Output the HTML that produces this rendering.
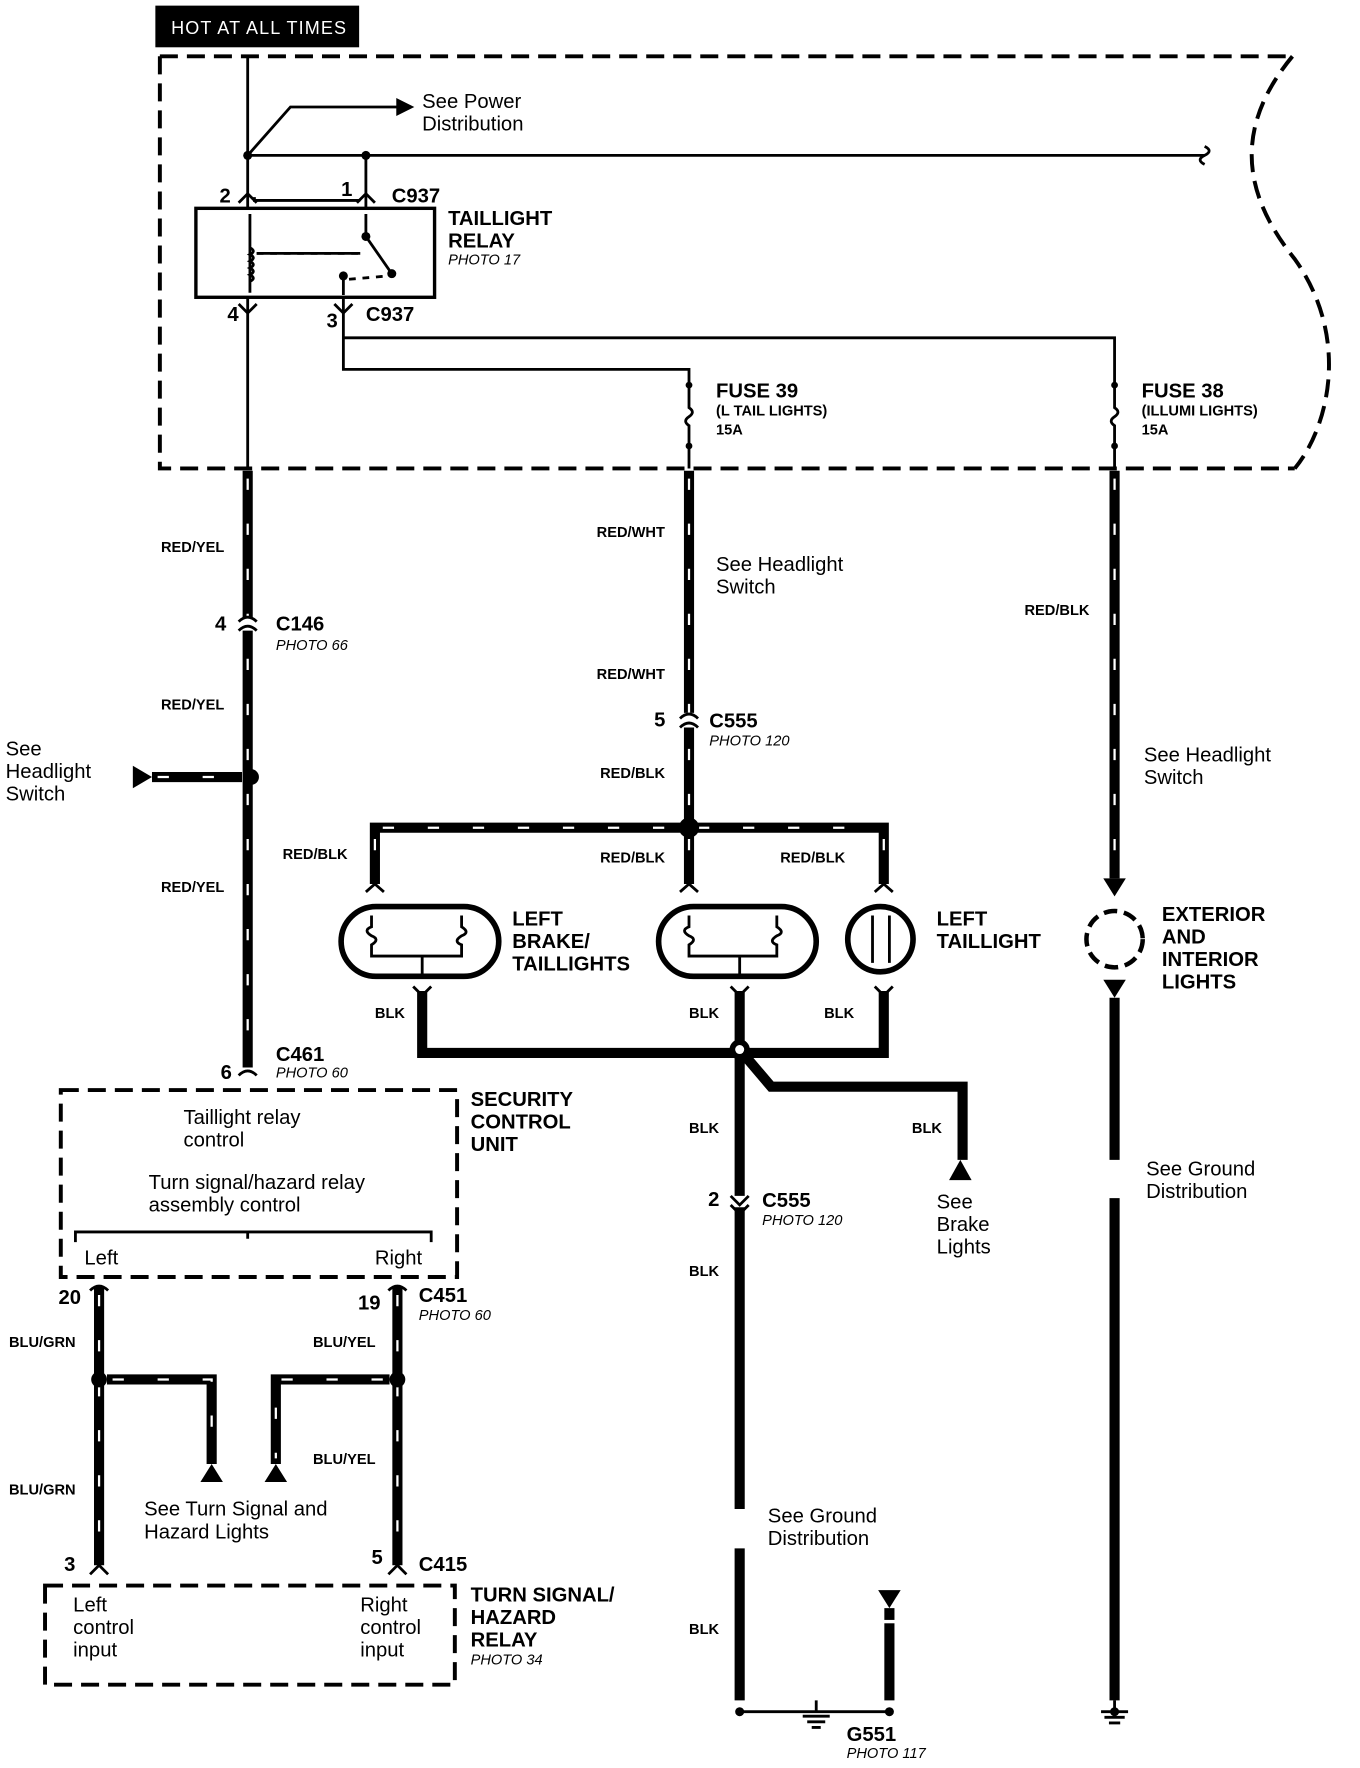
<!DOCTYPE html>
<html><head><meta charset="utf-8"><style>
html,body{margin:0;padding:0;background:#fff;}
svg{display:block}
text{font-family:"Liberation Sans",Arial,sans-serif;fill:#000}
.b{font-weight:bold;font-size:18px}
.s{font-weight:bold;font-size:13px}
.r{font-size:18px}
.i{font-style:italic;font-size:13px}
.w{stroke:#000;stroke-width:9;fill:none}
.t{stroke:#fff;stroke-width:2;stroke-dasharray:10 30;fill:none}
.n{stroke:#000;stroke-width:2.5;fill:none}
.d{stroke:#000;stroke-width:3.5;fill:none;stroke-dasharray:16 8}
</style></head><body>
<svg width="1360" height="1768" viewBox="0 0 1208 1570" preserveAspectRatio="none">
<rect x="138" y="5" width="181" height="37" fill="#000"/>
<text x="152" y="30" style="fill:#fff;font-size:16px;letter-spacing:1px">HOT AT ALL TIMES</text>
<path class="d" d="M142 50 H1148 M142 50 V416 H1150"/>
<path class="d" d="M1148 50 C1090 120,1110 180,1150 230 C1200 300,1180 380,1150 416"/>
<path class="n" d="M220 50 V185 M220 138 H1070 M325 138 V185 M220 138 L258 95 H355"/>
<path d="M352 87 L368 95 L352 103Z"/>
<text class="r" x="375" y="96">See Power</text><text class="r" x="375" y="116">Distribution</text>
<path class="n" d="M1070 130 q8 4 0 8 q-8 4 0 8"/>
<circle cx="220" cy="138" r="4"/><circle cx="325" cy="138" r="4"/>
<path class="n" d="M212 180 L220 172 L228 180 M317 180 L325 172 L333 180 M226 175 V178 H320" stroke-dasharray="0"/>
<text class="b" x="195" y="180">2</text><text class="b" x="303" y="174">1</text>
<text class="b" x="348" y="180">C937</text>
<rect x="174" y="185" width="212" height="79" fill="none" stroke="#000" stroke-width="3"/>
<text class="b" x="398" y="200">TAILLIGHT</text><text class="b" x="398" y="220">RELAY</text>
<text class="i" x="398" y="235">PHOTO 17</text>
<path class="n" d="M222 190 V260 M222 220 q6 3 0 6 q6 3 0 6 q6 3 0 6 q6 3 0 6 q6 3 0 6 M228 225 H320 M325 190 V210 L348 243 M305 245 V262"/>
<path class="n" stroke-dasharray="6 6" d="M228 225 H320 M310 248 L345 245"/>
<circle cx="325" cy="210" r="4"/><circle cx="348" cy="243" r="4"/><circle cx="305" cy="245" r="4"/>
<path class="n" d="M220 264 V416 M305 264 V328 H612 V340 M305 300 H990 V340"/>
<path class="n" d="M212 270 L220 278 L228 270 M297 270 L305 278 L313 270"/>
<text class="b" x="202" y="285">4</text><text class="b" x="290" y="291">3</text>
<text class="b" x="325" y="285">C937</text>
<path class="n" d="M612 340 V362 q6 4 0 8 q-6 4 0 8 V416 M990 340 V362 q6 4 0 8 q-6 4 0 8 V416"/>
<circle cx="612" cy="342" r="3"/><circle cx="612" cy="396" r="3"/><circle cx="990" cy="342" r="3"/><circle cx="990" cy="396" r="3"/>
<text class="b" x="636" y="353">FUSE 39</text><text class="s" x="636" y="369">(L TAIL LIGHTS)</text><text class="s" x="636" y="386">15A</text>
<text class="b" x="1014" y="353">FUSE 38</text><text class="s" x="1014" y="369">(ILLUMI LIGHTS)</text><text class="s" x="1014" y="386">15A</text>
<path class="w" d="M220 418 V548 M220 560 V948"/><path class="t" d="M220 425 V945"/>
<path class="n" stroke-width="4" d="M212 552 q8 -8 16 0 M212 560 q8 -8 16 0"/>
<text class="s" x="143" y="490">RED/YEL</text><text class="s" x="143" y="630">RED/YEL</text><text class="s" x="143" y="792">RED/YEL</text>
<text class="b" x="191" y="560">4</text><text class="b" x="245" y="560">C146</text><text class="i" x="245" y="577">PHOTO 66</text>
<circle cx="223" cy="690" r="7"/>
<path class="w" d="M135 690 H215"/><path class="t" d="M140 690 H215" stroke-dasharray="20 8"/>
<path d="M118 680 L135 690 L118 700Z"/>
<text class="r" x="5" y="671">See</text><text class="r" x="5" y="691">Headlight</text><text class="r" x="5" y="711">Switch</text>
<path class="n" stroke-width="4" d="M212 955 q8 -8 16 0"/>
<text class="b" x="196" y="958">6</text><text class="b" x="245" y="942">C461</text><text class="i" x="245" y="957">PHOTO 60</text>
<rect x="54" y="968" width="352" height="166" class="d"/>
<text class="b" x="418" y="982">SECURITY</text><text class="b" x="418" y="1002">CONTROL</text><text class="b" x="418" y="1022">UNIT</text>
<text class="r" x="163" y="998">Taillight relay</text><text class="r" x="163" y="1018">control</text>
<text class="r" x="132" y="1056">Turn signal/hazard relay</text><text class="r" x="132" y="1076">assembly control</text>
<path class="n" d="M67 1103 V1094 H383 V1103 M220 1094 V1100"/>
<text class="r" x="75" y="1123">Left</text><text class="r" x="333" y="1123">Right</text>
<path class="w" d="M88 1142 V1390 M353 1142 V1390"/><path class="t" d="M88 1150 V1385 M353 1150 V1385"/>
<path class="n" stroke-width="4" d="M80 1146 q8 -8 16 0 M345 1146 q8 -8 16 0 M80 1398 L88 1390 L96 1398 M345 1398 L353 1390 L361 1398"/>
<circle cx="88" cy="1225" r="7"/><circle cx="353" cy="1225" r="7"/>
<path class="w" d="M95 1225 H188 V1300 M346 1225 H245 V1300"/><path class="t" d="M100 1225 H188 V1295 M340 1225 H245 V1295" stroke-dasharray="18 10"/>
<path d="M178 1316 L188 1300 L198 1316Z M235 1316 L245 1300 L255 1316Z"/>
<text class="b" x="52" y="1158">20</text><text class="b" x="318" y="1163">19</text>
<text class="b" x="372" y="1156">C451</text><text class="i" x="372" y="1172">PHOTO 60</text>
<text class="s" x="8" y="1196">BLU/GRN</text><text class="s" x="278" y="1196">BLU/YEL</text>
<text class="s" x="278" y="1300">BLU/YEL</text><text class="s" x="8" y="1327">BLU/GRN</text>
<text class="r" x="128" y="1346">See Turn Signal and</text><text class="r" x="128" y="1366">Hazard Lights</text>
<text class="b" x="57" y="1395">3</text><text class="b" x="330" y="1389">5</text><text class="b" x="372" y="1395">C415</text>
<rect x="40" y="1408" width="364" height="88" class="d"/>
<text class="r" x="65" y="1431">Left</text><text class="r" x="65" y="1451">control</text><text class="r" x="65" y="1471">input</text>
<text class="r" x="320" y="1431">Right</text><text class="r" x="320" y="1451">control</text><text class="r" x="320" y="1471">input</text>
<text class="b" x="418" y="1422">TURN SIGNAL/</text><text class="b" x="418" y="1442">HAZARD</text><text class="b" x="418" y="1462">RELAY</text><text class="i" x="418" y="1478">PHOTO 34</text>
<path class="w" d="M612 418 V633 M612 646 V735"/><path class="t" d="M612 425 V730"/>
<path class="n" stroke-width="4" d="M604 638 q8 -8 16 0 M604 646 q8 -8 16 0"/>
<text class="s" x="530" y="477">RED/WHT</text><text class="r" x="636" y="507">See Headlight</text><text class="r" x="636" y="527">Switch</text>
<text class="s" x="530" y="603">RED/WHT</text><text class="b" x="581" y="645">5</text>
<text class="b" x="630" y="646">C555</text><text class="i" x="630" y="662">PHOTO 120</text><text class="s" x="533" y="691">RED/BLK</text>
<path class="w" d="M333 785 V735 H785 V785 M612 735 V785"/><path class="t" d="M340 735 H780 M333 745 V780 M612 745 V780 M785 745 V780" stroke-dasharray="14 22"/>
<circle cx="612" cy="735" r="9"/>
<path class="n" stroke-width="4" d="M325 792 L333 785 L341 792 M604 792 L612 785 L620 792 M777 792 L785 785 L793 792"/>
<text class="s" x="251" y="763">RED/BLK</text><text class="s" x="533" y="766">RED/BLK</text><text class="s" x="693" y="766">RED/BLK</text>
<rect x="303" y="805" width="140" height="62" rx="31" fill="none" stroke="#000" stroke-width="5"/>
<rect x="585" y="805" width="140" height="62" rx="31" fill="none" stroke="#000" stroke-width="5"/>
<circle cx="782" cy="834" r="29" fill="none" stroke="#000" stroke-width="5"/>
<path class="n" d="M330 813 v10 q-8 3 0 8 q8 3 0 8 v10 H410 v-10 q-8 -3 0 -8 q8 -3 0 -8 v-10 M612 813 v10 q-8 3 0 8 q8 3 0 8 v10 H690 v-10 q-8 -3 0 -8 q8 -3 0 -8 v-10 M775 813 v42 M790 813 v42 M375 849 v16 M657 849 v16"/>
<text class="b" x="455" y="822">LEFT</text><text class="b" x="455" y="842">BRAKE/</text><text class="b" x="455" y="862">TAILLIGHTS</text>
<text class="b" x="832" y="822">LEFT</text><text class="b" x="832" y="842">TAILLIGHT</text>
<path class="w" d="M375 880 V935 H657 M785 880 V935 H657 M657 880 V1062 M657 1072 V1340 M657 1375 V1510 M657 932 L685 965 H855 V1030"/>
<path d="M843 1048 L853 1030 L863 1048Z"/>
<path class="n" stroke-width="4" d="M367 876 L375 884 L383 876 M649 876 L657 884 L665 876 M777 876 L785 884 L793 876 M649 1062 L657 1070 L665 1062 M649 1070 L657 1078 L665 1070"/>
<circle cx="657" cy="932" r="9" fill="#000"/><circle cx="657" cy="932" r="4" fill="#fff"/>
<text class="s" x="333" y="904">BLK</text><text class="s" x="612" y="904">BLK</text><text class="s" x="732" y="904">BLK</text>
<text class="s" x="612" y="1006">BLK</text><text class="s" x="810" y="1006">BLK</text>
<text class="r" x="832" y="1073">See</text><text class="r" x="832" y="1093">Brake</text><text class="r" x="832" y="1113">Lights</text>
<text class="b" x="629" y="1071">2</text><text class="b" x="677" y="1072">C555</text><text class="i" x="677" y="1088">PHOTO 120</text>
<text class="s" x="612" y="1133">BLK</text><text class="s" x="612" y="1451">BLK</text>
<text class="r" x="682" y="1352">See Ground</text><text class="r" x="682" y="1372">Distribution</text>
<path class="w" d="M790 1428 V1510"/><path d="M780 1412 L800 1412 L790 1428Z"/><path stroke="#fff" stroke-width="3" d="M785 1440 H795"/>
<path class="n" d="M657 1520 H790 M725 1510 V1520"/>
<circle cx="657" cy="1520" r="4"/><circle cx="790" cy="1520" r="4"/>
<path class="n" d="M713 1524 H737 M717 1529 H733 M721 1534 H729"/>
<text class="b" x="752" y="1546">G551</text><text class="i" x="752" y="1561">PHOTO 117</text>
<path class="w" d="M990 418 V780"/><path class="t" d="M990 425 V780"/>
<path d="M980 780 L1000 780 L990 796Z"/>
<circle cx="990" cy="834" r="25" fill="none" stroke="#000" stroke-width="4" stroke-dasharray="12 6"/>
<path d="M980 870 L1000 870 L990 886Z"/>
<path class="w" d="M990 886 V1030 M990 1064 V1510"/>
<path class="n" d="M990 1510 V1520 M978 1520 H1002 M981 1525 H999 M985 1530 H995"/><circle cx="990" cy="1520" r="4"/>
<text class="s" x="910" y="546">RED/BLK</text><text class="r" x="1016" y="676">See Headlight</text><text class="r" x="1016" y="696">Switch</text>
<text class="b" x="1032" y="818">EXTERIOR</text><text class="b" x="1032" y="838">AND</text><text class="b" x="1032" y="858">INTERIOR</text><text class="b" x="1032" y="878">LIGHTS</text>
<text class="r" x="1018" y="1044">See Ground</text><text class="r" x="1018" y="1064">Distribution</text>
</svg>
</body></html>
